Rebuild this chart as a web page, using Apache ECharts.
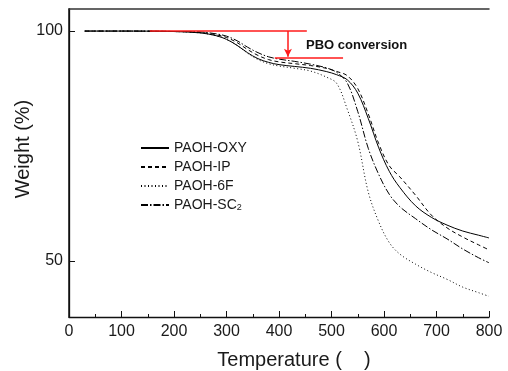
<!DOCTYPE html>
<html>
<head>
<meta charset="utf-8">
<script src="https://cdn.jsdelivr.net/npm/echarts@6/dist/echarts.min.js"></script>
<style>
  html, body { margin: 0; padding: 0; background: #fff; }
  #chart { width: 508px; height: 371px; }
</style>
</head>
<body>
<div id="chart"></div>
<script>
// temperature (°C) sample points
var temps = [30, 100, 200, 250, 280, 300, 320, 340, 360, 380, 400, 430, 460, 490, 510, 530, 550, 570, 590, 610, 630, 660, 690, 720, 750, 780, 800];

// weight (%)
var oxy = [100, 100, 99.9, 99.6, 99.0, 98.2, 96.9, 95.3, 94.0, 93.2, 92.7, 92.3, 91.9, 91.2, 90.5, 89.4, 86.5, 81.0, 74.6, 69.5, 66.0, 62.0, 59.5, 57.8, 56.5, 55.6, 55.0];
var ip = [100, 100, 99.9, 99.7, 99.2, 98.6, 97.5, 96.0, 94.7, 93.8, 93.3, 92.9, 92.5, 91.9, 91.2, 90.3, 87.5, 82.0, 75.5, 70.7, 68.3, 64.3, 60.0, 57.2, 55.2, 53.5, 52.4];
var f6 = [100, 100, 99.9, 99.6, 99.0, 98.2, 96.9, 95.2, 93.8, 92.9, 92.4, 91.9, 91.3, 90.0, 88.6, 83.0, 76.0, 65.0, 58.5, 54.0, 51.5, 49.3, 47.5, 46.0, 44.3, 43.1, 42.3];
var sc2 = [100, 100, 99.9, 99.8, 99.4, 98.9, 97.9, 96.5, 95.3, 94.4, 93.9, 93.4, 92.8, 92.0, 91.0, 88.7, 82.5, 74.5, 68.8, 64.5, 61.8, 59.2, 56.8, 54.8, 52.6, 50.7, 49.6];

var yTicks = [50, 100];

// PBO conversion annotation: [tStart, tEnd, weight]
var pboTop = [154, 453, 100];
var pboBottom = [392, 522, 94.2];
var pboArrow = [417, 100, 94.4];

var font = 'Arial, "Liberation Sans", sans-serif';
var ink = '#1a1a1a';

function pairs(ys) {
  return temps.map(function (t, i) { return [t, ys[i]]; });
}

var chart = echarts.init(document.getElementById('chart'));

var seriesDefs = [
  { name: 'PAOH-OXY', data: oxy, type: 'solid' },
  { name: 'PAOH-IP', data: ip, type: [4, 3] },
  { name: 'PAOH-6F', data: f6, type: [1, 2.5] },
  { name: 'PAOH-SC2', data: sc2, type: [7, 2, 1.5, 2] }
];

var series = seriesDefs.map(function (d) {
  return {
    name: d.name,
    type: 'line',
    data: pairs(d.data),
    smooth: 0.35,
    symbol: 'none',
    lineStyle: { color: '#000', width: 1, type: d.type },
    itemStyle: { color: '#000' },
    z: 3
  };
});

series[0].markLine = {
  silent: true,
  symbol: ['none', 'none'],
  animation: false,
  label: { show: false },
  lineStyle: { color: '#ff1a1a', width: 1.5, type: 'solid' },
  data: [
    [{ coord: [pboTop[0], pboTop[2]] }, { coord: [pboTop[1], pboTop[2]] }],
    [{ coord: [pboBottom[0], pboBottom[2]] }, { coord: [pboBottom[1], pboBottom[2]] }],
    [{ coord: [pboArrow[0], pboArrow[1]] }, { coord: [pboArrow[0], pboArrow[2]], symbol: 'arrow', symbolSize: [6, 8] }]
  ]
};

chart.setOption({
  animation: false,
  backgroundColor: '#fff',
  textStyle: { fontFamily: font },
  grid: { left: 69, right: 19, top: 9, bottom: 54, containLabel: false, outerBoundsMode: 'none' },
  legend: {
    orient: 'vertical',
    left: 135,
    top: 136,
    itemWidth: 28,
    itemHeight: 14,
    itemGap: 5,
    itemStyle: { opacity: 0 },
    textStyle: {
      fontFamily: font,
      fontSize: 14,
      color: ink,
      rich: { sub: { fontSize: 9, verticalAlign: 'bottom', padding: [6, 0, 0, 0], fontFamily: font, color: ink } }
    },
    formatter: function (name) {
      return name === 'PAOH-SC2' ? 'PAOH-SC{sub|2}' : name;
    },
    data: seriesDefs.map(function (d) { return d.name; })
  },
  graphic: [{
    type: 'text',
    left: 306,
    top: 39,
    style: { text: 'PBO conversion', font: 'bold 13px ' + font, fill: '#111' }
  }],
  xAxis: [{
    type: 'value',
    min: 0,
    max: 800,
    interval: 100,
    name: 'Temperature (    )',
    nameLocation: 'middle',
    nameGap: 33,
    nameTextStyle: { fontSize: 20, color: ink, padding: [0, 0, 0, 30] },
    axisLine: { lineStyle: { color: '#111', width: 1.3 } },
    axisTick: { inside: true, length: 6, lineStyle: { color: '#111' } },
    minorTick: { show: true, splitNumber: 2, length: 3, lineStyle: { color: '#111' } },
    axisLabel: { fontSize: 16, color: ink, margin: 7 },
    splitLine: { show: false }
  }, {
    type: 'value',
    position: 'top',
    min: 0,
    max: 800,
    axisLine: { show: true, lineStyle: { color: '#333', width: 1.5 } },
    axisTick: { show: false },
    axisLabel: { show: false },
    splitLine: { show: false }
  }],
  yAxis: [{
    type: 'value',
    min: 37.8,
    max: 104.8,
    name: 'Weight (%)',
    nameLocation: 'middle',
    nameGap: 36,
    nameMoveOverlap: false,
    nameTextStyle: { fontSize: 20, color: ink, padding: [0, 0, 0, 28] },
    axisLine: { show: true, lineStyle: { color: '#111', width: 1.3 } },
    axisTick: { show: true, inside: true, length: 6, customValues: yTicks, lineStyle: { color: '#111' } },
    axisLabel: { fontSize: 16, color: ink, margin: 6, customValues: yTicks },
    splitLine: { show: false }
  }, {
    type: 'value',
    position: 'right',
    min: 37.8,
    max: 104.8,
    axisLine: { show: true, lineStyle: { color: '#111', width: 1.5 } },
    axisTick: { show: false },
    axisLabel: { show: false },
    splitLine: { show: false }
  }],
  series: series
});
</script>
</body>
</html>
